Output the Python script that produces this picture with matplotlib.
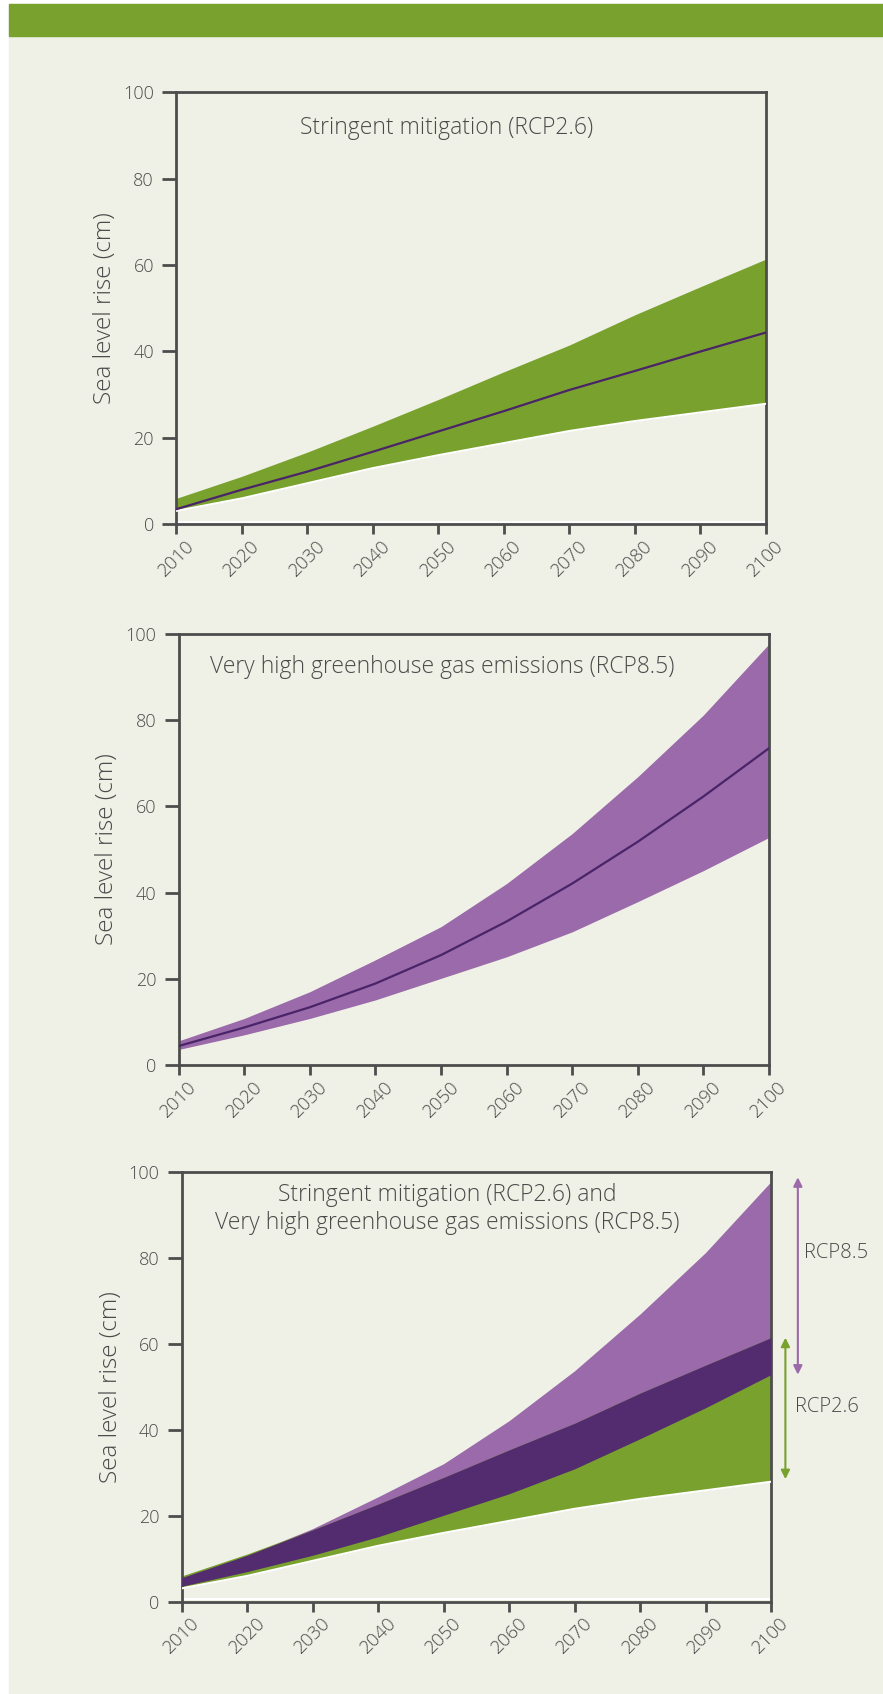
import matplotlib
matplotlib.use("Agg")
import matplotlib.pyplot as plt
from matplotlib.patches import Rectangle
import numpy as np

# ---------------- data ----------------
years = [2010, 2020, 2030, 2040, 2050, 2060, 2070, 2080, 2090, 2100]

rcp26_upper = [6.0, 11.1, 16.7, 22.7, 28.9, 35.3, 41.5, 48.5, 55.0, 61.4]
rcp26_median = [3.5, 8.0, 12.2, 16.8, 21.5, 26.2, 31.1, 35.5, 40.0, 44.4]
rcp26_lower = [3.1, 6.0, 9.5, 13.0, 16.0, 18.8, 21.6, 23.9, 25.9, 27.9]

rcp85_upper = [5.6, 10.8, 17.0, 24.4, 32.1, 42.1, 53.7, 66.9, 81.2, 97.7]
rcp85_median = [4.4, 8.7, 13.4, 18.9, 25.5, 33.3, 42.1, 51.8, 62.3, 73.5]
rcp85_lower = [3.6, 7.0, 10.8, 15.1, 20.1, 25.1, 30.9, 37.9, 45.1, 52.8]

yticks = [0, 20, 40, 60, 80, 100]
xtick_labels = [str(y) for y in years]

title1 = "Stringent mitigation (RCP2.6)"
title2 = "Very high greenhouse gas emissions (RCP8.5)"
title3a = "Stringent mitigation (RCP2.6) and"
title3b = "Very high greenhouse gas emissions (RCP8.5)"
ylabel = "Sea level rise (cm)"

# ---------------- style ----------------
BG = "#EFF1E6"
GREEN = "#79A12E"
LPURPLE = "#9A6AAA"
DPURPLE = "#532C6F"
LINE = "#4A2468"
SPINE = "#4D4D4D"
TEXT = "#4A4A4A"

plt.rcParams["font.family"] = ["Open Sans", "DejaVu Sans"]
plt.rcParams["font.weight"] = "light"

W, H = 883, 1694
fig = plt.figure(figsize=(W / 100, H / 100), dpi=100)
fig.patch.set_facecolor("white")

# beige panel and green header bar
fig.add_artist(Rectangle((9 / W, 0), 1 - 9 / W, (H - 4) / H,
                         transform=fig.transFigure, color=BG, zorder=0))
fig.add_artist(Rectangle((9 / W, (H - 35.7) / H), 1 - 9 / W, 31.7 / H,
                         transform=fig.transFigure, color=GREEN, zorder=0))

TITLE_FS = 16.5


def px_axes(left, top, right, bottom):
    return fig.add_axes([left / W, (H - bottom) / H, (right - left) / W, (bottom - top) / H])


def style(ax):
    ax.set_facecolor("none")
    ax.set_xlim(years[0], years[-1])
    ax.set_ylim(0, 100)
    for s in ax.spines.values():
        s.set_color(SPINE)
        s.set_linewidth(2.0)
    ax.set_yticks(yticks)
    ax.set_xticks(years)
    ax.set_xticklabels(xtick_labels)
    ax.tick_params(axis="y", length=10, width=2.0, color=SPINE, labelcolor=TEXT,
                   labelsize=13, pad=6)
    ax.tick_params(axis="x", length=7, width=2.0, color=SPINE, labelcolor=TEXT,
                   labelsize=13.5, pad=2)
    plt.setp(ax.get_xticklabels(), rotation=45, ha="center", va="top")
    ax.text(-0.1207, 0.5, ylabel, transform=ax.transAxes, rotation=90,
            ha="center", va="center", fontsize=17.5, color=TEXT)


# ---------------- panel 1 ----------------
ax1 = px_axes(176.2, 92.3, 766.0, 524.3)
style(ax1)
ax1.fill_between(years, rcp26_lower, rcp26_upper, color=GREEN, lw=0, zorder=2)
ax1.plot(years, rcp26_lower, color="white", lw=1.5, zorder=3)
ax1.plot(years, rcp26_median, color=LINE, lw=1.6, zorder=4)
ax1.axhline(0.6, color="white", lw=1.5, zorder=1)
ax1.text(0.459, 0.917, title1, transform=ax1.transAxes, ha="center", va="center",
         fontsize=TITLE_FS, color=TEXT)

# ---------------- panel 2 ----------------
ax2 = px_axes(178.6, 634.0, 769.0, 1065.0)
style(ax2)
ax2.fill_between(years, rcp85_lower, rcp85_upper, color=LPURPLE, lw=0, zorder=2)
ax2.plot(years, rcp85_median, color=LINE, lw=1.6, zorder=4)
ax2.text(0.446, 0.924, title2, transform=ax2.transAxes, ha="center", va="center",
         fontsize=TITLE_FS, color=TEXT)

# ---------------- panel 3 ----------------
ax3 = px_axes(181.7, 1171.7, 771.0, 1601.7)
style(ax3)
u26 = np.array(rcp26_upper)
l26 = np.array(rcp26_lower)
u85 = np.array(rcp85_upper)
l85 = np.array(rcp85_lower)
ax3.fill_between(years, l85, u85, color=LPURPLE, lw=0, zorder=2)
ax3.fill_between(years, l26, u26, color=GREEN, lw=0, zorder=2)
ax3.fill_between(years, np.maximum(l85, l26), np.minimum(u85, u26),
                 color=DPURPLE, lw=0, zorder=3)
ax3.plot(years, rcp26_lower, color="white", lw=1.5, zorder=4)
ax3.axhline(0.6, color="white", lw=1.5, zorder=1)
ax3.text(0.450, 0.946, title3a, transform=ax3.transAxes, ha="center", va="center",
         fontsize=TITLE_FS, color=TEXT)
ax3.text(0.450, 0.881, title3b, transform=ax3.transAxes, ha="center", va="center",
         fontsize=TITLE_FS, color=TEXT)

# range arrows beyond 2100
ax3.annotate("", xy=(2104.1, u85[-1] + 1.0), xytext=(2104.1, l85[-1]),
             arrowprops=dict(arrowstyle="<|-|>", color=LPURPLE, lw=1.5,
                             mutation_scale=13, shrinkA=0, shrinkB=0),
             annotation_clip=False)
ax3.annotate("", xy=(2102.2, u26[-1]), xytext=(2102.2, l26[-1] + 0.6),
             arrowprops=dict(arrowstyle="<|-|>", color=GREEN, lw=1.5,
                             mutation_scale=13, shrinkA=0, shrinkB=0),
             annotation_clip=False)
ax3.text(2105.0, 81.0, "RCP8.5", ha="left", va="center", fontsize=14.5,
         color=TEXT, clip_on=False)
ax3.text(2103.7, 45.3, "RCP2.6", ha="left", va="center", fontsize=14.5,
         color=TEXT, clip_on=False)

fig.savefig("out.png", dpi=100, facecolor=fig.get_facecolor())
